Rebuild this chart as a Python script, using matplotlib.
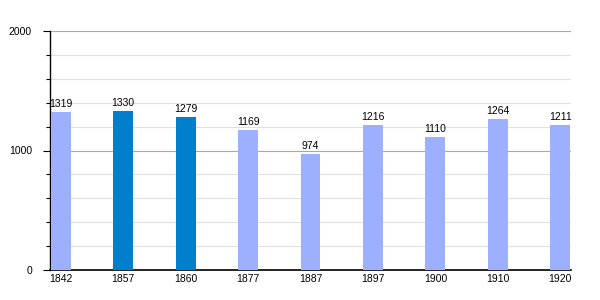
import matplotlib
matplotlib.use("Agg")
import matplotlib.pyplot as plt
from matplotlib.ticker import MultipleLocator

years = ["1842", "1857", "1860", "1877", "1887", "1897", "1900", "1910", "1920"]
population = [1319, 1330, 1279, 1169, 974, 1216, 1110, 1264, 1211]
highlight = [False, True, True, False, False, False, False, False, False]
light_color = "#9DB0FF"
dark_color = "#0080CC"

plt.rcParams['font.family'] = ['Liberation Sans', 'DejaVu Sans']

fig = plt.figure(figsize=(6, 3), dpi=100)
ax = fig.add_axes([50/600, 30/300, 521/600, 239/300])

x = list(range(len(years)))
colors = [dark_color if h else light_color for h in highlight]
ax.bar(x, population, width=0.32, color=colors, zorder=3)
for xi, v in zip(x, population):
    ax.text(xi, v + 25, str(v), ha='center', va='bottom', fontsize=7.5, zorder=4)

ax.set_xlim(-0.17, 8.17)
ax.set_ylim(0, 2000)
ax.set_xticks(x)
ax.set_xticklabels(years, fontsize=7.5)
ax.set_yticks([0, 1000, 2000])
ax.set_yticklabels(["0", "1000", "2000"], fontsize=7.5)
ax.yaxis.set_minor_locator(MultipleLocator(200))
ax.tick_params(axis='x', length=0, pad=3)
ax.tick_params(axis='y', which='major', length=5, width=0.8, pad=8)
ax.tick_params(axis='y', which='minor', length=3, width=0.8)

ax.grid(axis='y', which='minor', color='#E0E0E0', linewidth=0.8, zorder=0)
ax.grid(axis='y', which='major', color='#A8A8A8', linewidth=0.8, zorder=1)
for s in ['top', 'right']:
    ax.spines[s].set_visible(False)
ax.spines['left'].set_linewidth(1)
ax.spines['bottom'].set_linewidth(1.2)

fig.savefig("out.png", dpi=100)
